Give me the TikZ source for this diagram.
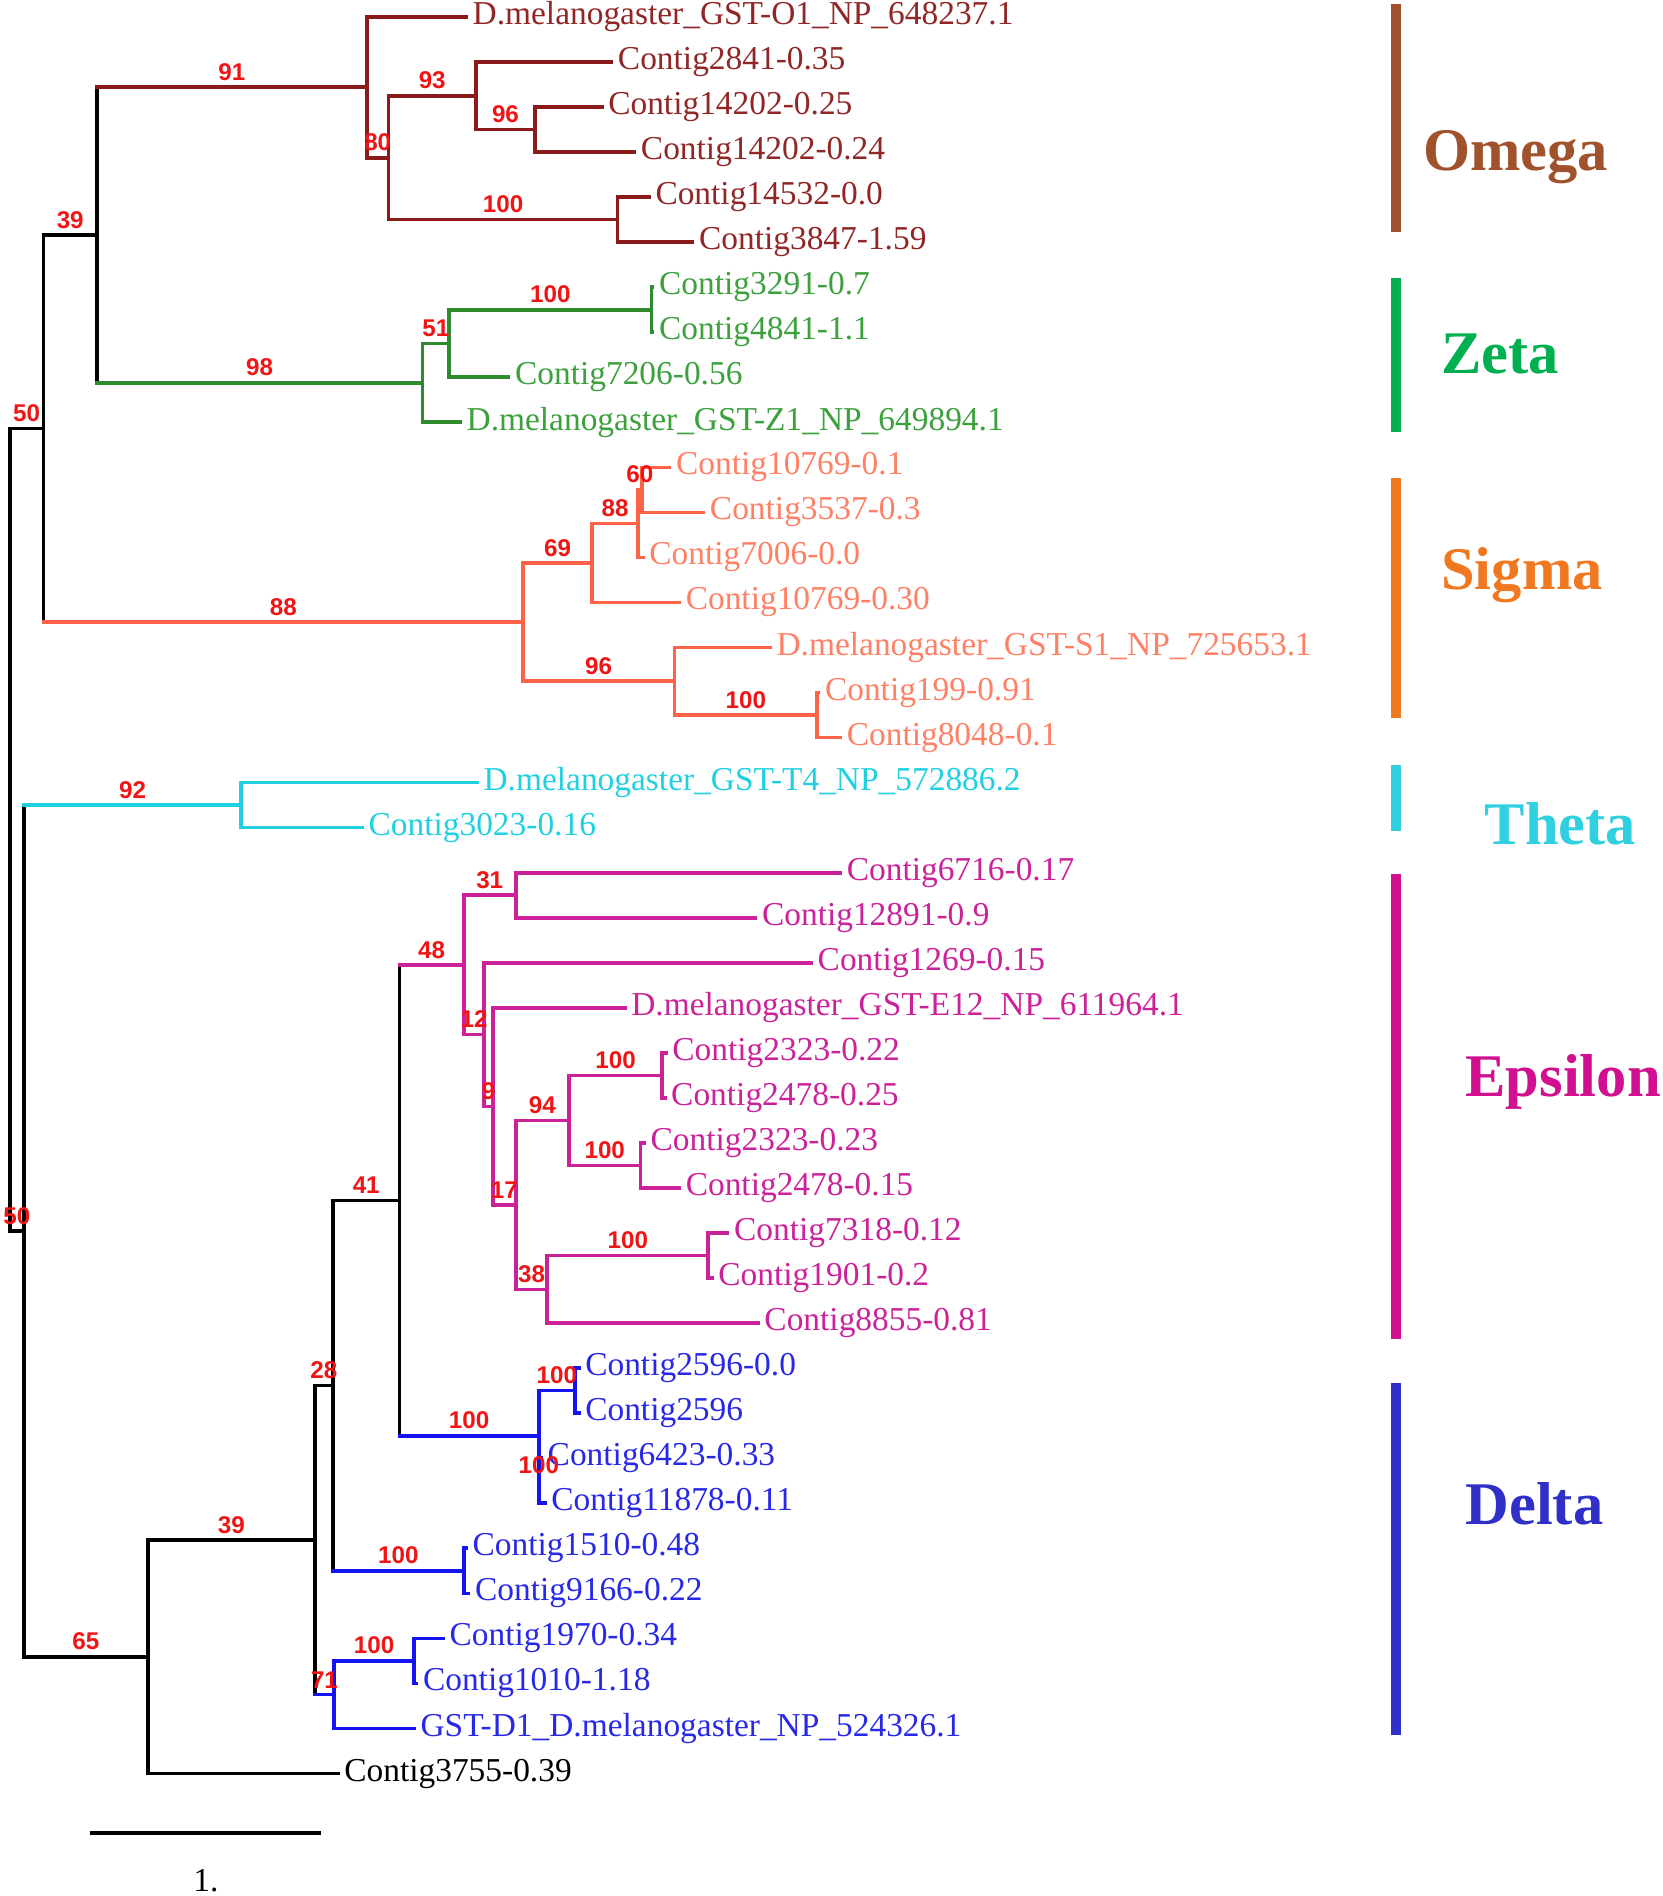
\documentclass[tikz,border=0pt]{standalone}
\usepackage{fontspec}
\setmainfont{Liberation Serif}
\setsansfont{Liberation Sans}
\definecolor{colOmg}{RGB}{139,26,26}
\definecolor{txtOmg}{RGB}{145,38,38}
\definecolor{colZet}{RGB}{46,139,46}
\definecolor{txtZet}{RGB}{60,160,60}
\definecolor{colSig}{RGB}{255,99,71}
\definecolor{txtSig}{RGB}{255,128,100}
\definecolor{colThe}{RGB}{32,208,224}
\definecolor{colEps}{RGB}{204,34,153}
\definecolor{colDel}{RGB}{20,20,240}
\definecolor{txtDel}{RGB}{40,40,232}
\definecolor{bsRed}{RGB}{240,20,20}
\definecolor{barOmg}{RGB}{160,82,45}
\definecolor{barZet}{RGB}{0,176,80}
\definecolor{barSig}{RGB}{240,120,32}
\definecolor{barThe}{RGB}{48,208,224}
\definecolor{barEps}{RGB}{208,16,143}
\definecolor{barDel}{RGB}{48,48,200}
\tikzset{
	br/.style = {line width=1.5pt, line cap=rect},% branche
	leaf/.style = {anchor=west, inner sep=2.5pt,
		font=\fontsize{13.8}{16}\selectfont},% feuille
	bs/.style = {above, inner sep=2pt, text=bsRed,
		font=\sffamily\bfseries\fontsize{10}{12}\selectfont},% bootstrap
	clade_bar/.style = {line width=4pt},% barre de clade
	clade_lab/.style = {anchor=west, inner sep=0pt,
		font=\bfseries\fontsize{25}{30}\selectfont}% nom de clade
}
\begin{document}
\begin{tikzpicture}[x=0.5pt,y=-0.5pt]
\useasboundingbox (0,0) rectangle (1373,1566);
% feuilles
\node[leaf, text=txtOmg] (l1) at (385,14) {D.melanogaster\_GST-O1\_NP\_648237.1};
\node[leaf, text=txtOmg] (l2) at (505,51.2) {Contig2841-0.35};
\node[leaf, text=txtOmg] (l3) at (497,88.4) {Contig14202-0.25};
\node[leaf, text=txtOmg] (l4) at (524,125.6) {Contig14202-0.24};
\node[leaf, text=txtOmg] (l5) at (536,162.8) {Contig14532-0.0};
\node[leaf, text=txtOmg] (l6) at (572,200) {Contig3847-1.59};
\node[leaf, text=txtZet] (l7) at (539,237.2) {Contig3291-0.7};
\node[leaf, text=txtZet] (l8) at (539,274.4) {Contig4841-1.1};
\node[leaf, text=txtZet] (l9) at (420,311.6) {Contig7206-0.56};
\node[leaf, text=txtZet] (l10) at (380,348.8) {D.melanogaster\_GST-Z1\_NP\_649894.1};
\node[leaf, text=txtSig] (l11) at (553,386) {Contig10769-0.1};
\node[leaf, text=txtSig] (l12) at (581,423.2) {Contig3537-0.3};
\node[leaf, text=txtSig] (l13) at (531,460.4) {Contig7006-0.0};
\node[leaf, text=txtSig] (l14) at (561,497.6) {Contig10769-0.30};
\node[leaf, text=txtSig] (l15) at (636,534.8) {D.melanogaster\_GST-S1\_NP\_725653.1};
\node[leaf, text=txtSig] (l16) at (676,572) {Contig199-0.91};
\node[leaf, text=txtSig] (l17) at (694,609.2) {Contig8048-0.1};
\node[leaf, text=colThe] (l18) at (394,646.4) {D.melanogaster\_GST-T4\_NP\_572886.2};
\node[leaf, text=colThe] (l19) at (299,683.6) {Contig3023-0.16};
\node[leaf, text=colEps] (l20) at (694,720.8) {Contig6716-0.17};
\node[leaf, text=colEps] (l21) at (624,758) {Contig12891-0.9};
\node[leaf, text=colEps] (l22) at (670,795.2) {Contig1269-0.15};
\node[leaf, text=colEps] (l23) at (516,832.4) {D.melanogaster\_GST-E12\_NP\_611964.1};
\node[leaf, text=colEps] (l24) at (550,869.6) {Contig2323-0.22};
\node[leaf, text=colEps] (l25) at (549,906.8) {Contig2478-0.25};
\node[leaf, text=colEps] (l26) at (532,944) {Contig2323-0.23};
\node[leaf, text=colEps] (l27) at (561,981.2) {Contig2478-0.15};
\node[leaf, text=colEps] (l28) at (601,1018.4) {Contig7318-0.12};
\node[leaf, text=colEps] (l29) at (588,1055.6) {Contig1901-0.2};
\node[leaf, text=colEps] (l30) at (626,1092.8) {Contig8855-0.81};
\node[leaf, text=txtDel] (l31) at (478,1130) {Contig2596-0.0};
\node[leaf, text=txtDel] (l32) at (478,1167.2) {Contig2596};
\node[leaf, text=txtDel] (l33) at (447,1204.4) {Contig6423-0.33};
\node[leaf, text=txtDel] (l34) at (450,1241.6) {Contig11878-0.11};
\node[leaf, text=txtDel] (l35) at (385,1278.8) {Contig1510-0.48};
\node[leaf, text=txtDel] (l36) at (387,1316) {Contig9166-0.22};
\node[leaf, text=txtDel] (l37) at (366,1353.2) {Contig1970-0.34};
\node[leaf, text=txtDel] (l38) at (344,1390.4) {Contig1010-1.18};
\node[leaf, text=txtDel] (l39) at (342,1427.6) {GST-D1\_D.melanogaster\_NP\_524326.1};
\node[leaf] (l40) at (279,1464.8) {Contig3755-0.39};
% noeuds internes
\coordinate (root) at (8,685.4);
\coordinate (n50a) at (36,354);
\coordinate (n39a) at (80,194.2);
\coordinate (oA) at (303,72.1);
\coordinate (oB) at (321,130.25);
\coordinate (oC) at (393,79.1);
\coordinate (oE) at (442,107);
\coordinate (oD) at (510,181.4);
\coordinate (zR) at (349,316.25);
\coordinate (zF) at (371,283.7);
\coordinate (zG) at (538,255.8);
\coordinate (sR) at (432,513.9);
\coordinate (sH) at (489,465);
\coordinate (sI) at (527,432.5);
\coordinate (sK) at (530,404.6);
\coordinate (sJ) at (557,562.7);
\coordinate (sL) at (675,590.6);
\coordinate (nX) at (20,1016.7);
\coordinate (tR) at (199,665);
\coordinate (n65) at (122,1368.4);
\coordinate (n39b) at (260,1272);
\coordinate (n28) at (275,1144.4);
\coordinate (n41) at (330,991.4);
\coordinate (e48) at (383,797);
\coordinate (e31) at (426,739.4);
\coordinate (e12) at (400,854.5);
\coordinate (e9) at (407,913.8);
\coordinate (e17) at (426,995.2);
\coordinate (e94) at (470,925.4);
\coordinate (eP) at (547,888.2);
\coordinate (eQ) at (529,962.6);
\coordinate (e38) at (452,1064.9);
\coordinate (eR) at (585,1037);
\coordinate (dM) at (445,1185.8);
\coordinate (dN) at (475,1148.6);
\coordinate (dO) at (445,1223);
\coordinate (dS) at (383,1297.4);
\coordinate (d71) at (276,1399.7);
\coordinate (dT) at (342,1371.8);
% tronc
\draw[br] (root |- n50a) -- (root |- nX) (n50a |- n39a) -- (n50a |- sR)
	(n39a |- oA) -- (n39a |- zR) (nX |- tR) -- (nX |- n65)
	(n65 |- n39b) -- (n65 |- l40) (n39b |- n28) -- (n39b |- d71)
	(n28 |- n41) -- (n28 |- dS) (n41 |- e48) -- (n41 |- dM);
\draw[br] (root |- n50a) -- node[bs]{50} (n50a) (root |- nX) -- node[bs]{50} (nX)
	(n50a |- n39a) -- node[bs]{39} (n39a) (nX |- n65) -- node[bs]{65} (n65)
	(n65 |- n39b) -- node[bs]{39} (n39b) (n65 |- l40) -- (l40)
	(n39b |- n28) -- node[bs]{28} (n28) (n28 |- n41) -- node[bs]{41} (n41);
% Omega
\draw[br, colOmg] (oA |- l1) -- (oA |- oB) (oB |- oC) -- (oB |- oD)
	(oC |- l2) -- (oC |- oE) (oE |- l3) -- (oE |- l4) (oD |- l5) -- (oD |- l6);
\draw[br, colOmg] (n39a |- oA) -- node[bs]{91} (oA) (oA |- l1) -- (l1)
	(oA |- oB) -- node[bs]{80} (oB) (oB |- oC) -- node[bs]{93} (oC)
	(oB |- oD) -- node[bs]{100} (oD) (oC |- l2) -- (l2)
	(oC |- oE) -- node[bs]{96} (oE) (oE |- l3) -- (l3) (oE |- l4) -- (l4)
	(oD |- l5) -- (l5) (oD |- l6) -- (l6);
% Zeta
\draw[br, colZet] (zR |- zF) -- (zR |- l10) (zF |- zG) -- (zF |- l9) (zG |- l7) -- (zG |- l8);
\draw[br, colZet] (n39a |- zR) -- node[bs]{98} (zR) (zR |- zF) -- node[bs]{51} (zF)
	(zR |- l10) -- (l10) (zF |- zG) -- node[bs]{100} (zG) (zF |- l9) -- (l9)
	(zG |- l7) -- (l7) (zG |- l8) -- (l8);
% Sigma
\draw[br, colSig] (sR |- sH) -- (sR |- sJ) (sH |- sI) -- (sH |- l14)
	(sI |- sK) -- (sI |- l13) (sK |- l11) -- (sK |- l12)
	(sJ |- l15) -- (sJ |- sL) (sL |- l16) -- (sL |- l17);
\draw[br, colSig] (n50a |- sR) -- node[bs]{88} (sR) (sR |- sH) -- node[bs]{69} (sH)
	(sR |- sJ) -- node[bs]{96} (sJ) (sH |- sI) -- node[bs]{88} (sI)
	(sH |- l14) -- (l14) (sI |- sK) -- node[bs]{60} (sK) (sI |- l13) -- (l13)
	(sK |- l11) -- (l11) (sK |- l12) -- (l12) (sJ |- l15) -- (l15)
	(sJ |- sL) -- node[bs]{100} (sL) (sL |- l16) -- (l16) (sL |- l17) -- (l17);
% Theta
\draw[br, colThe] (tR |- l18) -- (tR |- l19);
\draw[br, colThe] (nX |- tR) -- node[bs]{92} (tR) (tR |- l18) -- (l18) (tR |- l19) -- (l19);
% Epsilon
\draw[br, colEps] (e48 |- e31) -- (e48 |- e12) (e31 |- l20) -- (e31 |- l21)
	(e12 |- l22) -- (e12 |- e9) (e9 |- l23) -- (e9 |- e17)
	(e17 |- e94) -- (e17 |- e38) (e94 |- eP) -- (e94 |- eQ)
	(eP |- l24) -- (eP |- l25) (eQ |- l26) -- (eQ |- l27)
	(e38 |- eR) -- (e38 |- l30) (eR |- l28) -- (eR |- l29);
\draw[br, colEps] (n41 |- e48) -- node[bs]{48} (e48) (e48 |- e31) -- node[bs]{31} (e31)
	(e48 |- e12) -- node[bs]{12} (e12) (e31 |- l20) -- (l20) (e31 |- l21) -- (l21)
	(e12 |- l22) -- (l22) (e12 |- e9) -- node[bs]{9} (e9) (e9 |- l23) -- (l23)
	(e9 |- e17) -- node[bs]{17} (e17) (e17 |- e94) -- node[bs]{94} (e94)
	(e17 |- e38) -- node[bs]{38} (e38) (e94 |- eP) -- node[bs]{100} (eP)
	(e94 |- eQ) -- node[bs]{100} (eQ) (eP |- l24) -- (l24) (eP |- l25) -- (l25)
	(eQ |- l26) -- (l26) (eQ |- l27) -- (l27) (e38 |- eR) -- node[bs]{100} (eR)
	(e38 |- l30) -- (l30) (eR |- l28) -- (l28) (eR |- l29) -- (l29);
% Delta
\draw[br, colDel] (dM |- dN) -- (dM |- dO) (dN |- l31) -- (dN |- l32)
	(dO |- l33) -- (dO |- l34) (dS |- l35) -- (dS |- l36)
	(d71 |- dT) -- (d71 |- l39) (dT |- l37) -- (dT |- l38);
\draw[br, colDel] (n41 |- dM) -- node[bs]{100} (dM) (dM |- dN) -- node[bs]{100} (dN)
	(dM |- dO) -- node[bs]{100} (dO) (dN |- l31) -- (l31) (dN |- l32) -- (l32)
	(dO |- l33) -- (l33) (dO |- l34) -- (l34) (n28 |- dS) -- node[bs]{100} (dS)
	(dS |- l35) -- (l35) (dS |- l36) -- (l36) (n39b |- d71) -- node[bs]{71} (d71)
	(d71 |- dT) -- node[bs]{100} (dT) (d71 |- l39) -- (l39)
	(dT |- l37) -- (l37) (dT |- l38) -- (l38);
% clades
\draw[clade_bar, barOmg] (1153,3) -- (1153,192);
\draw[clade_bar, barZet] (1153,230) -- (1153,357);
\draw[clade_bar, barSig] (1153,395) -- (1153,593);
\draw[clade_bar, barThe] (1153,632) -- (1153,686);
\draw[clade_bar, barEps] (1153,722) -- (1153,1106);
\draw[clade_bar, barDel] (1153,1142) -- (1153,1433);
\node[clade_lab, text=barOmg] (cOmega) at (1175,130) {Omega};
\node[clade_lab, text=barZet] (cZeta) at (1190,292) {Zeta};
\node[clade_lab, text=barSig] (cSigma) at (1190,475) {Sigma};
\node[clade_lab, text=barThe] (cTheta) at (1226,680) {Theta};
\node[clade_lab, text=barEps] (cEpsilon) at (1210,894) {Epsilon};
\node[clade_lab, text=barDel] (cDelta) at (1210,1242) {Delta};
% echelle
\coordinate (sb1) at (76,1514);
\coordinate (sb2) at (264,1514);
\draw[br] (sb1) -- (sb2);
\node[font=\fontsize{13.8}{16}\selectfont] (sbl) at (170,1553) {1.};
\end{tikzpicture}
\end{document}
